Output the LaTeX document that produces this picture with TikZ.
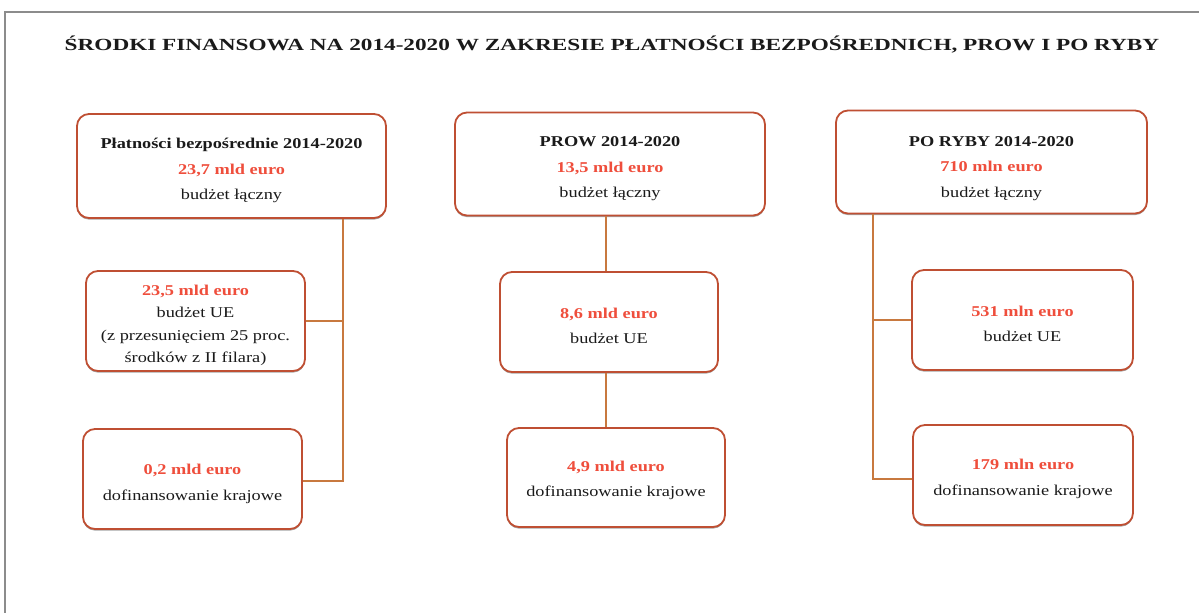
\documentclass[tikz,border=0pt]{standalone}
\usepackage{fontspec}
\usepackage{graphicx}
\setmainfont[FakeStretch=1.22]{Liberation Serif}
\usetikzlibrary{shadows}
\definecolor{boxborder}{HTML}{BF4F33}
\definecolor{conn}{HTML}{C8793F}
\definecolor{amount}{HTML}{EF4E3C}
\definecolor{txt}{HTML}{1A1A1A}
\definecolor{frame}{HTML}{8C8C8C}
\newcommand{\amt}[1]{\textcolor{amount}{\textbf{#1}}}
\newcommand{\tstrut}[1]{\rule{0pt}{#1}}
\begin{document}
\begin{tikzpicture}[x=1pt,y=-1pt,
  fbox/.style={draw=boxborder, line width=1.8pt, rounded corners=12pt, fill=white,
    align=center, text=txt, inner sep=0pt,
    drop shadow={shadow xshift=0pt, shadow yshift=-1.6pt, fill=black, opacity=0.35},
    font=\fontsize{15}{25.5}\selectfont},
  fboxtight/.style={fbox, font=\fontsize{15}{22.5}\selectfont},
  link/.style={draw=conn, line width=1.5pt},
  framel/.style={draw=frame, line width=1.2pt}]
\useasboundingbox (0,0) rectangle (1199,613);
\fill[white] (0,0) rectangle (1199,613);
\draw[framel] (1199,12) -- (5,12) -- (5,613);
\node[anchor=base, text=txt, font=\fontsize{17}{20}\selectfont\bfseries] (title) at (612,50)
  {\scalebox{1.12}[1]{ŚRODKI FINANSOWA NA 2014-2020 W ZAKRESIE PŁATNOŚCI BEZPOŚREDNICH, PROW I PO RYBY}};
% left column
\node[fbox, minimum width=309pt, minimum height=104pt] (b1) at (231.5,166)
  {\tstrut{20pt}\textbf{Płatności bezpośrednie 2014-2020}\\ \amt{23,7 mld euro}\\ budżet łączny};
\node[fboxtight, minimum width=219pt, minimum height=100pt] (b2) at (195.5,321)
  {\tstrut{19pt}\amt{23,5 mld euro}\\ budżet UE\\ (z przesunięciem 25 proc.\\ środków z II filara)};
\node[fbox, minimum width=219pt, minimum height=100pt] (b3) at (192.5,479)
  {\tstrut{20pt}\amt{0,2 mld euro}\\ dofinansowanie krajowe};
% middle column
\node[fbox, minimum width=310pt, minimum height=103pt] (b4) at (610,164)
  {\tstrut{20pt}\textbf{PROW 2014-2020}\\ \amt{13,5 mld euro}\\ budżet łączny};
\node[fbox, minimum width=218pt, minimum height=100pt] (b5) at (609,322)
  {\tstrut{18pt}\amt{8,6 mld euro}\\ budżet UE};
\node[fbox, minimum width=218pt, minimum height=99pt] (b6) at (616,477.5)
  {\tstrut{16pt}\amt{4,9 mld euro}\\ dofinansowanie krajowe};
% right column
\node[fbox, minimum width=311pt, minimum height=103pt] (b7) at (991.5,162)
  {\tstrut{23pt}\textbf{PO RYBY 2014-2020}\\ \amt{710 mln euro}\\ budżet łączny};
\node[fbox, minimum width=221pt, minimum height=100pt] (b8) at (1022.5,320)
  {\tstrut{18pt}\amt{531 mln euro}\\ budżet UE};
\node[fbox, minimum width=220pt, minimum height=100pt] (b9) at (1023,475)
  {\tstrut{18pt}\amt{179 mln euro}\\ dofinansowanie krajowe};
% connectors
\coordinate (lj) at (343,481);
\coordinate (mj) at (606,0);
\coordinate (rj) at (873,479);
\draw[link] (b1.south -| lj) -- (lj) -- (lj -| b3.east);
\draw[link] (b2.east) -- (b2.east -| lj);
\draw[link] (b4.south -| mj) -- (b5.north -| mj);
\draw[link] (b5.south -| mj) -- (b6.north -| mj);
\draw[link] (b7.south -| rj) -- (rj) -- (rj -| b9.west);
\draw[link] (b8.west) -- (b8.west -| rj);
\end{tikzpicture}
\end{document}
